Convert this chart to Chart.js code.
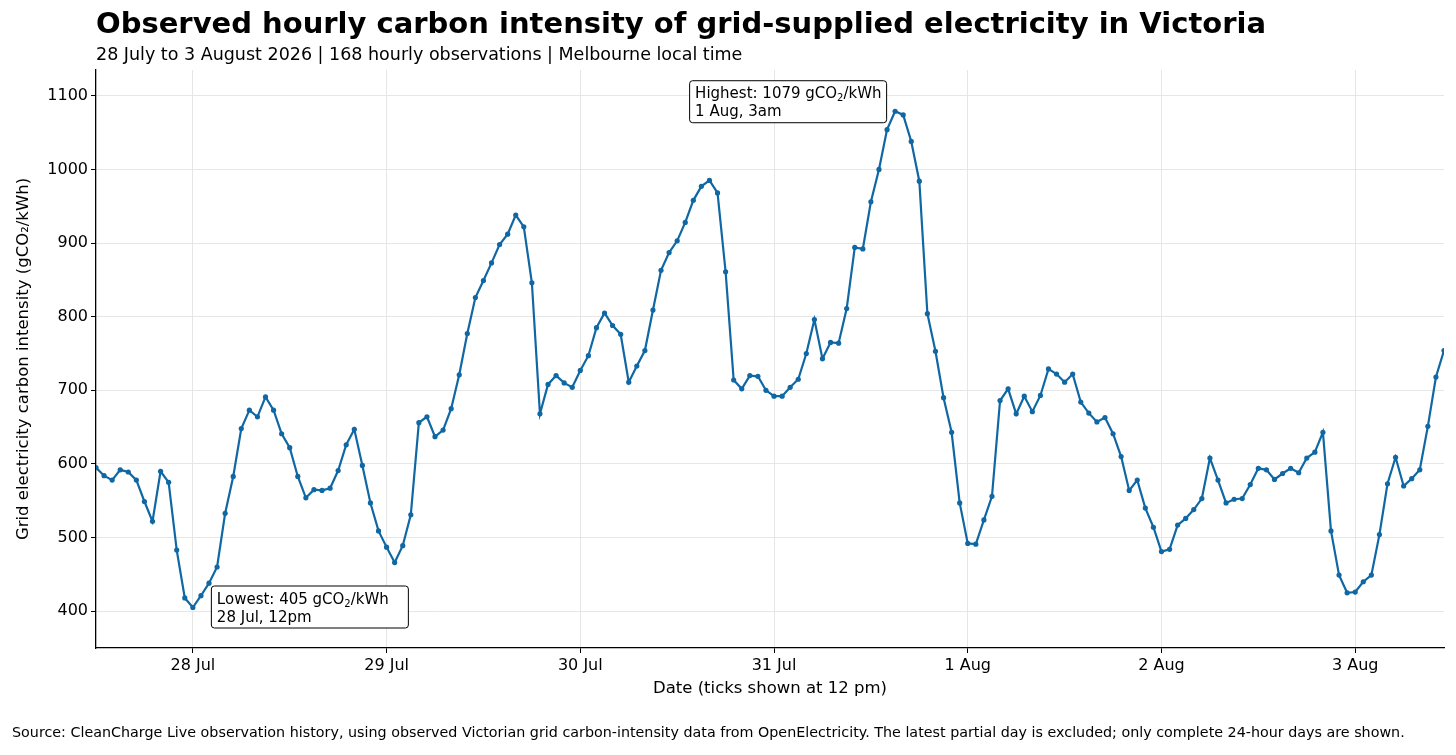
<!DOCTYPE html>
<html>
<head>
<meta charset="utf-8">
<script src="https://cdn.jsdelivr.net/npm/chart.js@4"></script>
<style>
  body { margin: 0; background: #fff; font-family: "DejaVu Sans", sans-serif; }
  #wrap { position: relative; width: 1456px; height: 755px; }
  #title { position: absolute; left: 96px; top: 6px; font-size: 29px; font-weight: bold; color: #000; }
  #sub { position: absolute; left: 96px; top: 44px; font-size: 17.5px; color: #000; }
  #src { position: absolute; left: 12px; top: 724px; font-size: 14.3px; color: #000; }
  canvas { position: absolute; left: 0; top: 0; }
</style>
</head>
<body>
<div id="wrap">
  <canvas id="c" width="1456" height="755"></canvas>
  <div id="title">Observed hourly carbon intensity of grid-supplied electricity in Victoria</div>
  <div id="sub">28 July to 3 August 2026 | 168 hourly observations | Melbourne local time</div>
  <div id="src">Source: CleanCharge Live observation history, using observed Victorian grid carbon-intensity data from OpenElectricity. The latest partial day is excluded; only complete 24-hour days are shown.</div>
</div>
<script>
// hourly values, 00:00 to 23:00 each day
const jul28 = [595, 584, 578, 592, 589, 578, 549, 522, 590, 575, 483, 418, 405, 421, 438, 460, 533, 583, 648, 673, 664, 691, 673, 641];
const jul29 = [622, 583, 554, 565, 564, 567, 591, 626, 647, 598, 547, 509, 487, 466, 489, 531, 656, 664, 637, 646, 675, 721, 777, 826];
const jul30 = [849, 873, 898, 912, 938, 922, 846, 668, 708, 720, 710, 704, 727, 747, 785, 805, 788, 776, 711, 733, 754, 809, 863, 887];
const jul31 = [903, 928, 958, 977, 985, 968, 861, 714, 702, 720, 719, 700, 692, 692, 704, 715, 750, 796, 743, 765, 764, 811, 894, 892];
const aug1 = [956, 1000, 1054, 1079, 1074, 1038, 984, 804, 753, 690, 643, 547, 492, 491, 524, 556, 686, 702, 668, 692, 671, 693, 729, 722];
const aug2 = [711, 722, 684, 669, 657, 663, 641, 610, 564, 578, 540, 514, 481, 484, 517, 526, 538, 553, 608, 578, 547, 552, 553, 572];
const aug3 = [594, 592, 579, 587, 594, 588, 608, 616, 643, 509, 449, 425, 426, 440, 449, 504, 573, 609, 570, 580, 592, 651, 718, 754];

const dayLabels = ['28 Jul', '29 Jul', '30 Jul', '31 Jul', '1 Aug', '2 Aug', '3 Aug'];
const yTicks = [400, 500, 600, 700, 800, 900, 1000, 1100];

const values = [].concat(jul28, jul29, jul30, jul31, aug1, aug2, aug3);
const points = values.map((v, i) => ({ x: i, y: v }));

const lineColor = '#0f67a3';

function drawNote(ctx, x, y, lines) {
    ctx.save();
    ctx.font = '15px "DejaVu Sans"';
    ctx.textBaseline = 'alphabetic';
    const w = 197, h = 42;
    ctx.fillStyle = '#fff';
    ctx.strokeStyle = '#000';
    ctx.lineWidth = 1;
    ctx.beginPath();
    ctx.roundRect(x + 0.5, y + 0.5, w, h, 3);
    ctx.fill();
    ctx.stroke();
    ctx.fillStyle = '#000';
    let tx = x + 6;
    const parts = lines[0];
    ctx.fillText(parts[0], tx, y + 18);
    tx += ctx.measureText(parts[0]).width;
    ctx.font = '10px "DejaVu Sans"';
    ctx.fillText('2', tx, y + 21);
    tx += ctx.measureText('2').width;
    ctx.font = '15px "DejaVu Sans"';
    ctx.fillText(parts[1], tx, y + 18);
    ctx.fillText(lines[1], x + 6, y + 36);
    ctx.restore();
}

const notes = {
    id: 'notes',
    afterDatasetsDraw(chart) {
        const { ctx, scales } = chart;
        const hi = values.indexOf(Math.max(...values));
        const lo = values.indexOf(Math.min(...values));
        const hx = scales.x.getPixelForValue(hi), hy = scales.y.getPixelForValue(values[hi]);
        const lx = scales.x.getPixelForValue(lo), ly = scales.y.getPixelForValue(values[lo]);
        drawNote(ctx, hx - 206, hy - 31, [['Highest: ' + values[hi] + ' gCO', '/kWh'], '1 Aug, 3am']);
        drawNote(ctx, lx + 18, ly - 22, [['Lowest: ' + values[lo] + ' gCO', '/kWh'], '28 Jul, 12pm']);
    }
};

new Chart(document.getElementById('c'), {
    type: 'line',
    data: {
        datasets: [{
            data: points,
            borderColor: lineColor,
            backgroundColor: lineColor,
            borderWidth: 2.2,
            pointRadius: 2.6,
            pointBorderWidth: 0,
            tension: 0
        }]
    },
    options: {
        responsive: false,
        animation: false,
        layout: { padding: { top: 70, right: 12, bottom: 52, left: 0 } },
        plugins: { legend: { display: false }, tooltip: { enabled: false } },
        scales: {
            x: {
                type: 'linear',
                min: 0,
                max: 167,
                afterBuildTicks(axis) {
                    axis.ticks = dayLabels.map((d, i) => ({ value: 12 + 24 * i }));
                },
                afterFit(axis) { axis.height = 55; },
                ticks: {
                    color: '#000',
                    font: { size: 16, family: 'DejaVu Sans' },
                    maxRotation: 0,
                    callback: (v) => dayLabels[(v - 12) / 24]
                },
                grid: { color: '#e6e6e6', tickColor: '#000', tickLength: 5 },
                border: { color: '#000', width: 1.3 },
                title: { display: true, text: 'Date (ticks shown at 12 pm)', color: '#000', font: { size: 16.5, family: 'DejaVu Sans' }, padding: { top: 0 } }
            },
            y: {
                min: 350,
                max: 1135,
                afterBuildTicks(axis) {
                    axis.ticks = yTicks.map(v => ({ value: v }));
                },
                afterFit(axis) { axis.width = 96; },
                ticks: { color: '#000', font: { size: 16, family: 'DejaVu Sans' }, callback: (v) => String(v) },
                grid: { color: '#e6e6e6', tickColor: '#000', tickLength: 5 },
                border: { color: '#000', width: 1.3 },
                title: { display: true, text: 'Grid electricity carbon intensity (gCO₂/kWh)', color: '#000', font: { size: 16.5, family: 'DejaVu Sans' }, padding: { bottom: 2, top: 14 } }
            }
        }
    },
    plugins: [notes]
});
</script>
</body>
</html>
